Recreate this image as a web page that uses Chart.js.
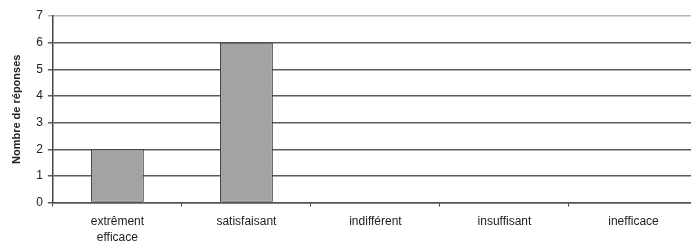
<!DOCTYPE html>
<html>
<head>
<meta charset="utf-8">
<script src="https://cdn.jsdelivr.net/npm/chart.js@4/dist/chart.umd.min.js"></script>
<style>
  html, body { margin: 0; padding: 0; background: #ffffff; overflow: hidden; }
  #wrap { width: 698px; height: 253px; }
</style>
</head>
<body>
<div id="wrap"><canvas id="answersChart"></canvas></div>
<script>
const { Chart } = window;

const categories = [['extrêment', 'efficace'], 'satisfaisant', 'indifférent', 'insuffisant', 'inefficace'];
const responses = [2, 6, 0, 0, 0];
const yTicks = [0, 1, 2, 3, 4, 5, 6, 7];

Chart.defaults.font.family = '"Liberation Sans", Arial, sans-serif';
Chart.defaults.color = '#222222';

const ctx = document.getElementById('answersChart').getContext('2d');
const answersChart = new Chart(ctx, {
  type: 'bar',
  data: {
    labels: categories,
    datasets: [
      {
        label: 'Nombre de réponses',
        data: responses,
        backgroundColor: '#a3a3a3',
        borderColor: '#3a3a3a',
        borderWidth: 1,
        borderSkipped: false,
        barPercentage: 0.41,
        categoryPercentage: 1,
      },
    ],
  },
  options: {
    responsive: true,
    maintainAspectRatio: false,
    animation: false,
    layout: { padding: { top: 16, right: 0, bottom: 0, left: 10 } },
    plugins: {
      legend: { display: false },
      tooltip: { enabled: false },
    },
    scales: {
      x: {
        offset: true,
        grid: {
          offset: true,
          drawOnChartArea: false,
          drawTicks: true,
          tickLength: 4,
          color: '#444444',
        },
        border: { display: true, color: '#555555', width: 1.5 },
        ticks: {
          font: { size: 12, lineHeight: 1.35 },
          color: '#222222',
          padding: 7,
          maxRotation: 0,
          autoSkip: false,
        },
      },
      y: {
        min: 0,
        max: 7,
        afterBuildTicks: (axis) => {
          axis.ticks = yTicks.map((v) => ({ value: v }));
        },
        grid: {
          color: (c) => (c.tick && c.tick.value === 7 ? '#b5b5b5' : '#5a5a5a'),
          lineWidth: 1.5,
          tickLength: 5,
        },
        border: { display: true, color: '#444444', width: 1.5 },
        ticks: {
          font: { size: 12 },
          color: '#222222',
          padding: 5,
        },
        title: {
          display: true,
          text: 'Nombre de réponses',
          font: { size: 11, weight: 'bold' },
          color: '#222222',
          padding: { top: 0, bottom: 8 },
        },
      },
    },
  },
});
</script>
</body>
</html>
